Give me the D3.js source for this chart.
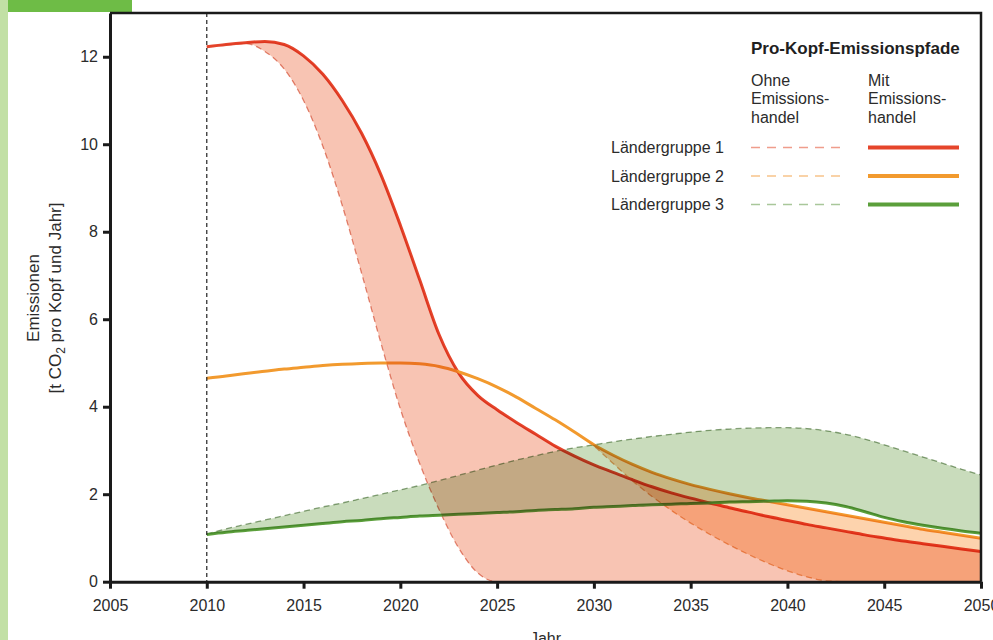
<!DOCTYPE html>
<html>
<head>
<meta charset="utf-8">
<script src="https://cdnjs.cloudflare.com/ajax/libs/d3/7.8.5/d3.min.js"></script>
<style>
  body { margin: 0; background: #fff; }
  svg { display: block; font-family: "Liberation Sans", Arial, sans-serif; }
  .band { mix-blend-mode: multiply; }
  .axis text { font-size: 16px; fill: #2b2b2b; }
  .axis path, .axis line { stroke: #1a1a1a; stroke-width: 3; }
</style>
</head>
<body>
<div id="chart"></div>
<script>
// ---- data ----
const years = [2010, 2011, 2012, 2013, 2014, 2015, 2016, 2017, 2018, 2019,
               2020, 2021, 2022, 2023, 2024, 2025, 2026, 2027, 2028, 2029,
               2030, 2031, 2032, 2033, 2034, 2035, 2036, 2037, 2038, 2039,
               2040, 2041, 2042, 2043, 2044, 2045, 2046, 2047, 2048, 2049, 2050];

// Ländergruppe 1
const g1With    = [12.23, 12.28, 12.32, 12.35, 12.28, 12.02, 11.6, 11.0, 10.25, 9.3,
                   8.15, 6.9, 5.65, 4.78, 4.26, 3.93, 3.64, 3.37, 3.1, 2.87,
                   2.67, 2.5, 2.33, 2.17, 2.03, 1.91, 1.8, 1.69, 1.59, 1.49,
                   1.4, 1.31, 1.23, 1.15, 1.07, 1.0, 0.93, 0.87, 0.81, 0.75, 0.69];
const g1Without = [12.23, 12.27, 12.3, 12.12, 11.72, 11.0, 9.95, 8.6, 7.05, 5.45,
                   3.95, 2.7, 1.65, 0.78, 0.2, 0, 0, 0, 0, 0,
                   0, 0, 0, 0, 0, 0, 0, 0, 0, 0,
                   0, 0, 0, 0, 0, 0, 0, 0, 0, 0, 0];
// Ländergruppe 2
const g2With    = [4.65, 4.7, 4.76, 4.81, 4.86, 4.9, 4.94, 4.97, 4.99, 5.0,
                   5.0, 4.98, 4.92, 4.8, 4.64, 4.45, 4.22, 3.96, 3.7, 3.42,
                   3.13, 2.89, 2.68, 2.5, 2.35, 2.22, 2.11, 2.01, 1.92, 1.84,
                   1.76, 1.68, 1.6, 1.52, 1.44, 1.36, 1.28, 1.2, 1.13, 1.06, 0.99];
const g2Without = [4.65, 4.7, 4.76, 4.81, 4.86, 4.9, 4.94, 4.97, 4.99, 5.0,
                   5.0, 4.98, 4.92, 4.8, 4.64, 4.45, 4.22, 3.96, 3.7, 3.42,
                   3.1, 2.7, 2.3, 1.95, 1.63, 1.34, 1.08, 0.84, 0.62, 0.42,
                   0.25, 0.11, 0.02, 0, 0, 0, 0, 0, 0, 0, 0];
// Ländergruppe 3
const g3With    = [1.08, 1.13, 1.17, 1.21, 1.25, 1.29, 1.33, 1.37, 1.4, 1.44,
                   1.47, 1.5, 1.52, 1.54, 1.56, 1.58, 1.6, 1.63, 1.65, 1.67,
                   1.7, 1.72, 1.74, 1.76, 1.77, 1.79, 1.8, 1.82, 1.83, 1.84,
                   1.85, 1.84, 1.8, 1.72, 1.6, 1.47, 1.37, 1.29, 1.22, 1.16, 1.11];
const g3Without = [1.09, 1.21, 1.31, 1.41, 1.51, 1.61, 1.71, 1.8, 1.9, 2.0,
                   2.1, 2.2, 2.31, 2.43, 2.55, 2.67, 2.78, 2.88, 2.98, 3.06,
                   3.13, 3.2, 3.26, 3.32, 3.37, 3.42, 3.46, 3.49, 3.51, 3.52,
                   3.52, 3.5, 3.45, 3.37, 3.26, 3.13, 2.99, 2.85, 2.71, 2.57, 2.44];

const xTicks = [2005, 2010, 2015, 2020, 2025, 2030, 2035, 2040, 2045, 2050];
const yTicks = [0, 2, 4, 6, 8, 10, 12];
const groupLabels = ["Ländergruppe 1", "Ländergruppe 2", "Ländergruppe 3"];
const legendTitle = "Pro-Kopf-Emissionspfade";
const colOhne = ["Ohne", "Emissions-", "handel"];
const colMit = ["Mit", "Emissions-", "handel"];

// ---- styling ----
const width = 993, height = 640;
const plot = { left: 110, right: 981, top: 13, bottom: 581.7 };
const groups = [
  { label: groupLabels[0], solid: g1With, dashed: g1Without, color: "#e5452b", dash: "#e48d7a", legendDash: "#ef9d8c", fill: "#f8c4b3" },
  { label: groupLabels[1], solid: g2With, dashed: g2Without, color: "#f29a2e", dash: "#efae72", legendDash: "#f7c38b", fill: "#fdd3ad" },
  { label: groupLabels[2], solid: g3With, dashed: g3Without, color: "#5b9f3b", dash: "#8aa57e", legendDash: "#a9c79a", fill: "#c9dcbc" }
];

const svg = d3.select("#chart").append("svg")
  .attr("width", width)
  .attr("height", height);

// page decoration: side strip and top tab
svg.append("rect").attr("x", 0).attr("y", 0).attr("width", 8).attr("height", height).attr("fill", "#c2e0a5");
svg.append("rect").attr("x", 8).attr("y", 0).attr("width", 124).attr("height", 12).attr("fill", "#6ebc46");

const x = d3.scaleLinear().domain([2005, 2050]).range([plot.left, plot.right]);
const y = d3.scaleLinear().domain([0, 13]).range([plot.bottom, plot.top]);

svg.append("clipPath").attr("id", "plotClip")
  .append("rect")
  .attr("x", plot.left).attr("y", plot.top)
  .attr("width", plot.right - plot.left).attr("height", plot.bottom - plot.top);

const g = svg.append("g").attr("clip-path", "url(#plotClip)");

const line = vals => d3.line()
  .x((d, i) => x(years[i]))
  .y(d => y(d))
  .curve(d3.curveMonotoneX)(vals);

const area = (a, b) => d3.area()
  .x((d, i) => x(years[i]))
  .y0((d, i) => y(b[i]))
  .y1(d => y(d))
  .curve(d3.curveMonotoneX)(a);

// dashed paths (without trading)
g.selectAll(".dashed")
  .data(groups)
  .enter().append("path")
  .attr("class", "dashed")
  .attr("d", d => line(d.dashed))
  .attr("fill", "none")
  .attr("stroke", d => d.dash)
  .attr("stroke-width", 1.3)
  .attr("stroke-dasharray", "6,4");

// solid paths (with trading)
g.selectAll(".solid")
  .data(groups)
  .enter().append("path")
  .attr("class", "solid")
  .attr("d", d => line(d.solid))
  .attr("fill", "none")
  .attr("stroke", d => d.color)
  .attr("stroke-width", 3);

// bands between both paths, blended over the lines
g.selectAll(".band")
  .data(groups)
  .enter().append("path")
  .attr("class", "band")
  .attr("d", d => area(d.solid, d.dashed))
  .attr("fill", d => d.fill);

// 2010 marker
svg.append("line")
  .attr("x1", x(2010)).attr("x2", x(2010))
  .attr("y1", plot.top).attr("y2", plot.bottom)
  .attr("stroke", "#222")
  .attr("stroke-width", 1.2)
  .attr("stroke-dasharray", "4,3");

// frame
svg.append("path")
  .attr("d", `M${plot.left},${plot.top}H${plot.right}V${plot.bottom}`)
  .attr("fill", "none")
  .attr("stroke", "#1a1a1a")
  .attr("stroke-width", 2.5);

// axes
svg.append("g")
  .attr("class", "axis")
  .attr("transform", `translate(${plot.left},0)`)
  .call(d3.axisLeft(y).tickValues(yTicks).tickSize(7).tickSizeOuter(0).tickPadding(5));

svg.append("g")
  .attr("class", "axis")
  .attr("transform", `translate(0,${plot.bottom})`)
  .call(d3.axisBottom(x).tickValues(xTicks).tickFormat(d3.format("d")).tickSize(7).tickSizeOuter(0).tickPadding(11));

// axis titles
svg.append("text")
  .attr("x", (plot.left + plot.right) / 2)
  .attr("y", 644)
  .attr("text-anchor", "middle")
  .attr("font-size", 16)
  .attr("fill", "#2b2b2b")
  .text("Jahr");

const yTitle = svg.append("text")
  .attr("transform", "translate(39,298) rotate(-90)")
  .attr("text-anchor", "middle")
  .attr("font-size", 17)
  .attr("fill", "#2b2b2b");
yTitle.append("tspan").attr("x", 0).attr("y", 0).text("Emissionen");
const sub = yTitle.append("tspan").attr("x", 0).attr("y", 22);
sub.append("tspan").text("[t CO");
sub.append("tspan").attr("font-size", 12).attr("dy", 4).text("2");
sub.append("tspan").attr("dy", -4).text(" pro Kopf und Jahr]");

// legend
const legend = svg.append("g").attr("fill", "#2b2b2b").attr("font-size", 16);
const lg = { textX: 611, dashX0: 751, dashX1: 840, solidX0: 868, solidX1: 959, row0: 147.5, rowStep: 28.5 };

legend.append("text")
  .attr("x", lg.dashX0).attr("y", 54)
  .attr("font-weight", "bold")
  .attr("font-size", 17)
  .attr("fill", "#1f1f1f")
  .text(legendTitle);

[[colOhne, lg.dashX0], [colMit, lg.solidX0]].forEach(([lines, cx]) => {
  legend.append("text")
    .attr("x", cx)
    .selectAll("tspan")
    .data(lines)
    .enter().append("tspan")
    .attr("x", cx)
    .attr("y", (d, i) => 85.5 + i * 18.5)
    .text(d => d);
});

const rows = legend.selectAll(".row")
  .data(groups)
  .enter().append("g")
  .attr("class", "row")
  .attr("transform", (d, i) => `translate(0,${lg.row0 + i * lg.rowStep})`);

rows.append("text")
  .attr("x", lg.textX)
  .attr("dy", "0.35em")
  .text(d => d.label);

rows.append("line")
  .attr("x1", lg.dashX0).attr("x2", lg.dashX1)
  .attr("stroke", d => d.legendDash)
  .attr("stroke-width", 1.3)
  .attr("stroke-dasharray", "9,7");

rows.append("line")
  .attr("x1", lg.solidX0).attr("x2", lg.solidX1)
  .attr("stroke", d => d.color)
  .attr("stroke-width", 4);
</script>
</body>
</html>
